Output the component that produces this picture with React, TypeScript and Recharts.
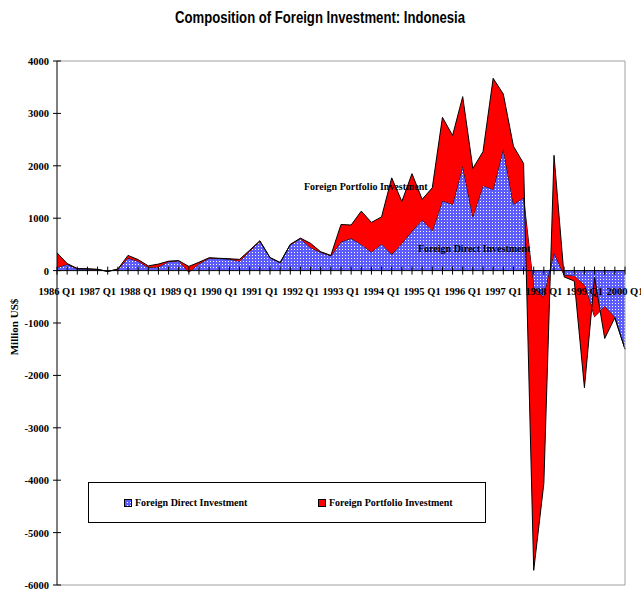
import React from 'react';
import { AreaChart, Area, XAxis, YAxis, ReferenceLine } from 'recharts';

const YEARS = ['1986', '1987', '1988', '1989', '1990', '1991', '1992', '1993', '1994', '1995', '1996', '1997', '1998', '1999', '2000'];
const QUARTERS = ['Q1', 'Q2', 'Q3', 'Q4'];
const CATEGORIES = YEARS.flatMap((y) => QUARTERS.map((q) => `${y} ${q}`)).slice(0, 57);

// million US$
const FDI = [
  60, 120, 30, 30, 20, -15, 20, 240, 180, 60, 70, 170, 185, -30, 130, 235,
  230, 220, 180, 370, 560, 245, 150, 495, 610, 440, 350, 280, 550, 615, 500, 355,
  510, 310, 520, 755, 965, 760, 1335, 1265, 1995, 1030, 1625, 1550, 2330, 1265, 1390, -330,
  -520, 340, -90, -110, -280, -880, -690, -900, -1500,
];
const FPI = [
  280, 15, 10, 5, 5, 0, 10, 50, 30, 30, 55, 10, 5, 110, 30, 10,
  5, 5, 35, 20, 10, 5, 5, 5, 10, 80, 10, 10, 330, 255, 635, 565,
  515, 1460, 800, 1095, 395, 820, 1590, 1315, 1325, 920, 645, 2120, 1040, 1110, 655, -5390,
  -3540, 1860, -30, -90, -1955, 750, -605, 0, 0,
];
const Y_TICKS = [-6000, -5000, -4000, -3000, -2000, -1000, 0, 1000, 2000, 3000, 4000];

const data = CATEGORIES.map((c, i) => ({ quarter: c, fdi: FDI[i], fpi: FPI[i] }));

const W = 641;
const H = 590;
const TOP = 61;
const X_AXIS_H = 5;
const PLOT_H = H - TOP - X_AXIS_H;
const Y_MIN = -6000;
const Y_MAX = 4000;
const ZERO_Y = TOP + (PLOT_H * Y_MAX) / (Y_MAX - Y_MIN);

const BLUE = '#5c5cff';
const serif = { fontFamily: '"Liberation Serif", "Times New Roman", serif', fontWeight: 700 };

const Hatch = ({ id }: { id: string }) => (
  <pattern id={id} patternUnits="userSpaceOnUse" x={0} y={0} width={3} height={3}>
    <rect x={0} y={0} width={3} height={3} fill={BLUE} />
    <rect x={0} y={0} width={1} height={1} fill="#ffffff" />
  </pattern>
);

const XTick = (props: any) => {
  const { x, payload } = props;
  const label = String(payload.value);
  return (
    <g>
      <line x1={x} x2={x} y1={ZERO_Y - 4} y2={ZERO_Y + 4} stroke="#000" />
      {label.endsWith('Q1') && (
        <text x={x} y={ZERO_Y + 24} textAnchor="middle" fontSize={10.5} fill="#000" style={serif}>
          {label}
        </text>
      )}
    </g>
  );
};

const YTick = (props: any) => {
  const { x, y, payload } = props;
  return (
    <g>
      <line x1={x - 4} x2={x + 4} y1={y} y2={y} stroke="#000" />
      <text x={x - 8} y={y + 4} textAnchor="end" fontSize={10.5} fill="#000" style={serif}>
        {payload.value}
      </text>
    </g>
  );
};

export default function App() {
  return (
    <div style={{ position: 'absolute', left: 0, top: 0, width: W, height: H, background: '#fff' }}>
      <AreaChart
        width={W}
        height={H}
        data={data}
        margin={{ top: TOP, right: 16, bottom: 0, left: 0 }}
      >
        <defs>
          <Hatch id="fdiHatch" />
        </defs>
        <XAxis
          dataKey="quarter"
          interval={0}
          height={X_AXIS_H}
          axisLine={false}
          tickLine={false}
          tickSize={0}
          tickMargin={0}
          tick={XTick}
        />
        <YAxis
          width={57}
          domain={[Y_MIN, Y_MAX]}
          ticks={Y_TICKS}
          interval={0}
          allowDataOverflow
          axisLine={{ stroke: '#000' }}
          tickLine={false}
          tickSize={0}
          tickMargin={0}
          tick={YTick}
        />
        <ReferenceLine y={Y_MAX} stroke="#a0a0a0" />
        <ReferenceLine y={Y_MIN} stroke="#a0a0a0" />
        <ReferenceLine x={CATEGORIES[CATEGORIES.length - 1]} stroke="#a0a0a0" />
        <Area
          type="linear"
          dataKey="fdi"
          name="Foreign Direct Investment"
          stackId="1"
          stroke="#000"
          strokeWidth={1}
          fill="url(#fdiHatch)"
          fillOpacity={1}
          isAnimationActive={false}
          dot={false}
          activeDot={false}
        />
        <Area
          type="linear"
          dataKey="fpi"
          name="Foreign Portfolio Investment"
          stackId="1"
          stroke="#000"
          strokeWidth={1}
          fill="#ff0000"
          fillOpacity={1}
          isAnimationActive={false}
          dot={false}
          activeDot={false}
        />
        <ReferenceLine y={0} stroke="#000" />
      </AreaChart>

      <svg width={W} height={H} style={{ position: 'absolute', left: 0, top: 0, pointerEvents: 'none' }}>
        <text
          x={320}
          y={23}
          textAnchor="middle"
          fontSize={16}
          fontWeight={700}
          fontFamily='"Liberation Sans", Arial, sans-serif'
          textLength={290}
          lengthAdjust="spacingAndGlyphs"
        >
          Composition of Foreign Investment: Indonesia
        </text>
        <text x={14} y={327} transform="rotate(-90 14 327)" textAnchor="middle" fontSize={11} style={serif} dy={4}>
          Million US$
        </text>
        <text x={304} y={190} fontSize={10} style={serif}>Foreign Portfolio Investment</text>
        <text x={418} y={252} fontSize={10} style={serif}>Foreign Direct Investment</text>
      </svg>

      <div
        style={{
          position: 'absolute',
          left: 88,
          top: 482,
          width: 396,
          height: 39,
          border: '1px solid #000',
          ...serif,
          fontSize: 10,
        }}
      >
        <div style={{ position: 'absolute', left: 35, top: 14, display: 'flex', alignItems: 'center' }}>
          <svg width={8} height={8} style={{ marginRight: 3 }}>
            <defs>
              <Hatch id="fdiHatchLegend" />
            </defs>
            <rect x={0.5} y={0.5} width={7} height={7} fill="url(#fdiHatchLegend)" stroke="#000" />
          </svg>
          <span>Foreign Direct Investment</span>
        </div>
        <div style={{ position: 'absolute', left: 229, top: 14, display: 'flex', alignItems: 'center' }}>
          <svg width={8} height={8} style={{ marginRight: 3 }}>
            <rect x={0.5} y={0.5} width={7} height={7} fill="#ff0000" stroke="#000" />
          </svg>
          <span>Foreign Portfolio Investment</span>
        </div>
      </div>
    </div>
  );
}
